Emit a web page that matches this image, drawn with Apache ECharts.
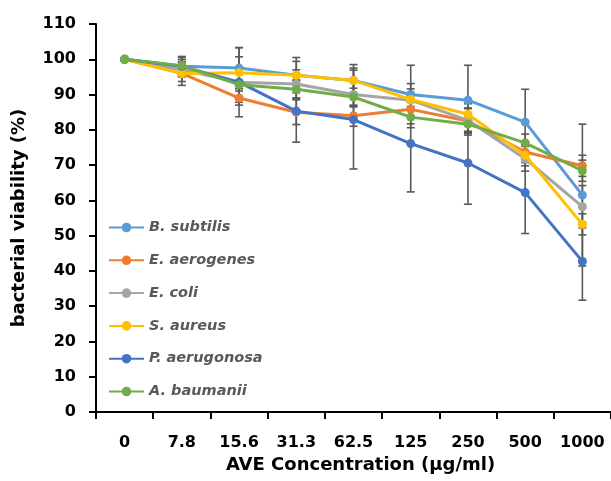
<!DOCTYPE html>
<html>
<head>
<meta charset="utf-8">
<script src="https://cdn.jsdelivr.net/npm/echarts@6/dist/echarts.min.js"></script>
<style>html,body{margin:0;padding:0;background:#fff}#c{width:611px;height:481px}</style>
</head>
<body>
<div id="c"></div>
<script>
const categories = ['0', '7.8', '15.6', '31.3', '62.5', '125', '250', '500', '1000'];
const seriesNames = ['B. subtilis', 'E. aerogenes', 'E. coli', 'S. aureus', 'P. aerugonosa', 'A. baumanii'];
const bSubtilis = [100, 98, 97.5, 95.5, 94, 90, 88.4, 82.2, 61.5];
const eAerogenes = [100, 96, 89, 85, 84, 85.8, 82.5, 73.7, 69.8];
const eColi = [100, 97, 93.5, 93, 90, 88.4, 82.7, 71.8, 58.2];
const sAureus = [100, 96, 96.2, 95.5, 94, 88.6, 84.4, 72.8, 53.2];
const pAeruginosa = [100, 98, 93.5, 85.3, 82.9, 76.1, 70.6, 62.2, 42.7];
const aBaumanii = [100, 98.2, 92.8, 91.5, 89.3, 83.6, 81.6, 76.3, 68.4];
const bSubtilisErr = [0, 2.8, 5.8, 5, 4.5, 8.3, 9.9, 9.3, 20.1];
const eAerogenesErr = [0, 2.3, 2, 3.5, 3, 2, 3.5, 3, 3];
const eColiErr = [0, 2, 4, 4, 3.5, 4.7, 3.5, 3.5, 6];
const sAureusErr = [0, 3.4, 4.5, 3.9, 3.5, 3, 3, 3, 3];
const pAeruginosaErr = [0, 2.6, 9.8, 8.8, 14, 13.7, 11.7, 11.6, 11];
const aBaumaniiErr = [0, 1.8, 5, 2.5, 2.5, 3, 2, 2.5, 3];
const yTicks = [0, 110, 10];

const values = [bSubtilis, eAerogenes, eColi, sAureus, pAeruginosa, aBaumanii];
const errs = [bSubtilisErr, eAerogenesErr, eColiErr, sAureusErr, pAeruginosaErr, aBaumaniiErr];
const colors = ['#5B9BD5', '#ED7D31', '#A5A5A5', '#FFC000', '#4472C4', '#70AD47'];
const FONT = 'DejaVu Sans';

const errData = [];
values.forEach((v, s) => {
  v.forEach((y, i) => {
    if (errs[s][i] > 0) errData.push([i, y - errs[s][i], y + errs[s][i]]);
  });
});

const series = [{
  type: 'custom',
  name: 'err',
  z: 1,
  silent: true,
  data: errData,
  renderItem: function (params, api) {
    const i = api.value(0);
    const lo = api.coord([i, api.value(1)]);
    const hi = api.coord([i, api.value(2)]);
    const hw = 4;
    const style = { stroke: '#595959', lineWidth: 1.6, fill: null };
    return {
      type: 'group',
      children: [
        { type: 'line', shape: { x1: lo[0], y1: lo[1], x2: hi[0], y2: hi[1] }, style: style },
        { type: 'line', shape: { x1: lo[0] - hw, y1: lo[1], x2: lo[0] + hw, y2: lo[1] }, style: style },
        { type: 'line', shape: { x1: hi[0] - hw, y1: hi[1], x2: hi[0] + hw, y2: hi[1] }, style: style }
      ]
    };
  }
}];
values.forEach((v, s) => {
  series.push({
    type: 'line',
    name: seriesNames[s],
    data: v,
    z: 2 + s,
    symbol: 'circle',
    symbolSize: 9,
    lineStyle: { width: 3, color: colors[s] },
    itemStyle: { color: colors[s] }
  });
});

const chart = echarts.init(document.getElementById('c'), null, { renderer: 'canvas' });
chart.setOption({
  animation: false,
  color: colors,
  grid: { left: 96, right: -1, top: 24, bottom: 69, containLabel: false },
  legend: {
    data: seriesNames,
    orient: 'vertical',
    left: 103,
    top: 215,
    itemWidth: 35,
    itemHeight: 12,
    itemGap: 17.8,
    textStyle: { fontFamily: FONT, fontStyle: 'italic', fontWeight: 'bold', fontSize: 14.5, lineHeight: 15, color: '#595959' }
  },
  xAxis: {
    type: 'category',
    data: categories,
    boundaryGap: true,
    name: 'AVE Concentration (µg/ml)',
    nameLocation: 'middle',
    nameGap: 43,
    nameTextStyle: { fontFamily: FONT, fontWeight: 'bold', fontSize: 18, color: '#000', padding: [0, 0, 0, 14] },
    axisLine: { lineStyle: { color: '#000', width: 2 } },
    axisTick: { show: true, length: 7, interval: 0, lineStyle: { color: '#000', width: 2 } },
    axisLabel: { interval: 0, margin: 23, fontFamily: FONT, fontWeight: 'bold', fontSize: 16, color: '#000' },
    splitLine: { show: false }
  },
  yAxis: {
    type: 'value',
    min: yTicks[0],
    max: yTicks[1],
    interval: yTicks[2],
    name: 'bacterial viability (%)',
    nameLocation: 'middle',
    nameGap: 68,
    nameTextStyle: { fontFamily: FONT, fontWeight: 'bold', fontSize: 18, color: '#000' },
    axisLine: { show: true, lineStyle: { color: '#000', width: 2 } },
    axisTick: { show: true, length: 7, lineStyle: { color: '#000', width: 2 } },
    axisLabel: { margin: 20, fontFamily: FONT, fontWeight: 'bold', fontSize: 16, color: '#000' },
    splitLine: { show: false }
  },
  series: series
});
</script>
</body>
</html>
